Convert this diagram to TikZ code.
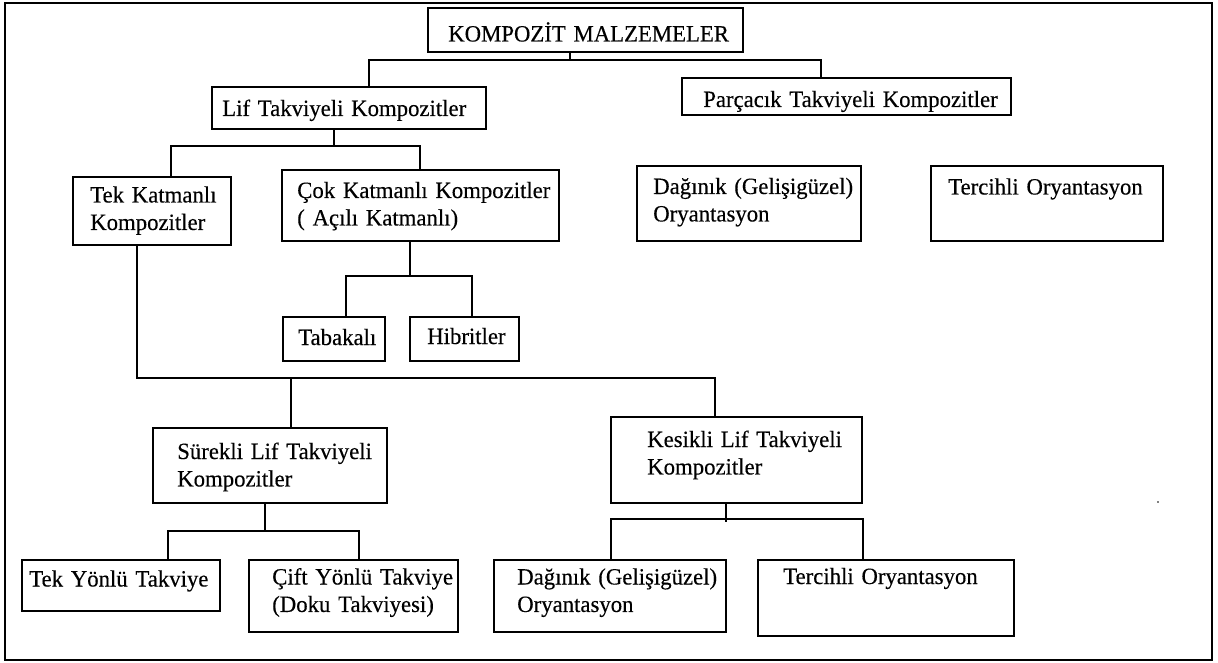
\documentclass[tikz,border=0pt]{standalone}
\usepackage{fontspec}
\setmainfont{Liberation Serif}[FakeStretch=0.975,WordSpace=0.8,FakeBold=0.3]
\usetikzlibrary{fit}
\begin{document}
\begin{tikzpicture}[x=0.75pt,y=-0.75pt,
  box/.style={draw,line width=1.35pt,inner sep=0pt},
  link/.style={draw,line width=1.2pt},
  lbl/.style={inner sep=0pt,anchor=base west,align=left,text width=300pt,
              font=\fontsize{17.5pt}{20.6pt}\selectfont}]
\useasboundingbox (0,0) rectangle (1218,663);
% outer frame
\draw[line width=1.2pt] (5,3) rectangle (1212,660);

% boxes
\node[box,fit={(428,8) (743,52)}] (root) {};
\node[box,fit={(212,87) (486,129)}] (lif) {};
\node[box,fit={(682,78) (1011,115)}] (parc) {};
\node[box,fit={(73,177) (231,245)}] (tek) {};
\node[box,fit={(282,170) (559,241)}] (cok) {};
\node[box,fit={(637,166) (861,241)}] (dag1) {};
\node[box,fit={(931,166) (1163,241)}] (ter1) {};
\node[box,fit={(283,317) (385,361)}] (tab) {};
\node[box,fit={(410,317) (519,361)}] (hib) {};
\node[box,fit={(153,428) (387,503)}] (sur) {};
\node[box,fit={(611,417) (862,503)}] (kes) {};
\node[box,fit={(22,560) (220,611)}] (tyon) {};
\node[box,fit={(249,560) (458,632)}] (cift) {};
\node[box,fit={(494,560) (726,632)}] (dag2) {};
\node[box,fit={(758,560) (1014,636)}] (ter2) {};

% texts
\node[lbl] (root-t) at (448,41.5) {KOMPOZİT MALZEMELER};
\node[lbl] (lif-t) at (222,116) {Lif Takviyeli Kompozitler};
\node[lbl] (parc-t) at (703,107) {Parçacık Takviyeli Kompozitler};
\node[lbl] (tek-t) at (90,202.5) {Tek Katmanlı\\Kompozitler};
\node[lbl] (cok-t) at (297,198) {Çok Katmanlı Kompozitler\\( Açılı Katmanlı)};
\node[lbl] (dag1-t) at (653,194) {Dağınık (Gelişigüzel)\\Oryantasyon};
\node[lbl] (ter1-t) at (948,194.5) {Tercihli Oryantasyon};
\node[lbl] (tab-t) at (298,345) {Tabakalı};
\node[lbl] (hib-t) at (427,344) {Hibritler};
\node[lbl] (sur-t) at (177,459) {Sürekli Lif Takviyeli\\Kompozitler};
\node[lbl] (kes-t) at (647,447) {Kesikli Lif Takviyeli\\Kompozitler};
\node[lbl] (tyon-t) at (29,586.5) {Tek Yönlü Takviye};
\node[lbl] (cift-t) at (272,584.5) {Çift Yönlü Takviye\\(Doku Takviyesi)};
\node[lbl] (dag2-t) at (517,584.5) {Dağınık (Gelişigüzel)\\Oryantasyon};
\node[lbl] (ter2-t) at (783,584) {Tercihli Oryantasyon};

% junction points of the tree
\coordinate (a0) at (570,60);
\coordinate (a1) at (369,60);
\coordinate (a2) at (821,60);
\coordinate (b0) at (334,146);
\coordinate (b1) at (171,146);
\coordinate (b2) at (420,146);
\coordinate (c0) at (410,276);
\coordinate (c1) at (346,276);
\coordinate (c2) at (472,276);
\coordinate (d0) at (137,378);
\coordinate (d1) at (291,378);
\coordinate (d2) at (715,378);
\coordinate (e0) at (265,531);
\coordinate (e1) at (168,531);
\coordinate (e2) at (359,531);
\coordinate (f0) at (726,519);
\coordinate (f1) at (611,519);
\coordinate (f2) at (863,519);

% connectors
\draw[link] (root.south -| a0) -- (a0);
\draw[link] (lif.north -| a1) -- (a1) -- (a2) -- (parc.north -| a2);
\draw[link] (lif.south -| b0) -- (b0);
\draw[link] (tek.north -| b1) -- (b1) -- (b2) -- (cok.north -| b2);
\draw[link] (cok.south -| c0) -- (c0);
\draw[link] (tab.north -| c1) -- (c1) -- (c2) -- (hib.north -| c2);
\draw[link] (tek.south -| d0) -- (d0) -- (d2) -- (kes.north -| d2);
\draw[link] (d1) -- (sur.north -| d1);
\draw[link] (sur.south -| e0) -- (e0);
\draw[link] (tyon.north -| e1) -- (e1) -- (e2) -- (cift.north -| e2);
\draw[link] (kes.south -| f0) -- ([yshift=-2.2pt]f0);
\draw[link] (dag2.north -| f1) -- (f1) -- (f2) -- (ter2.north -| f2);

% stray speck at the right
\fill (1158,502) circle[radius=0.9];
\end{tikzpicture}
\end{document}
